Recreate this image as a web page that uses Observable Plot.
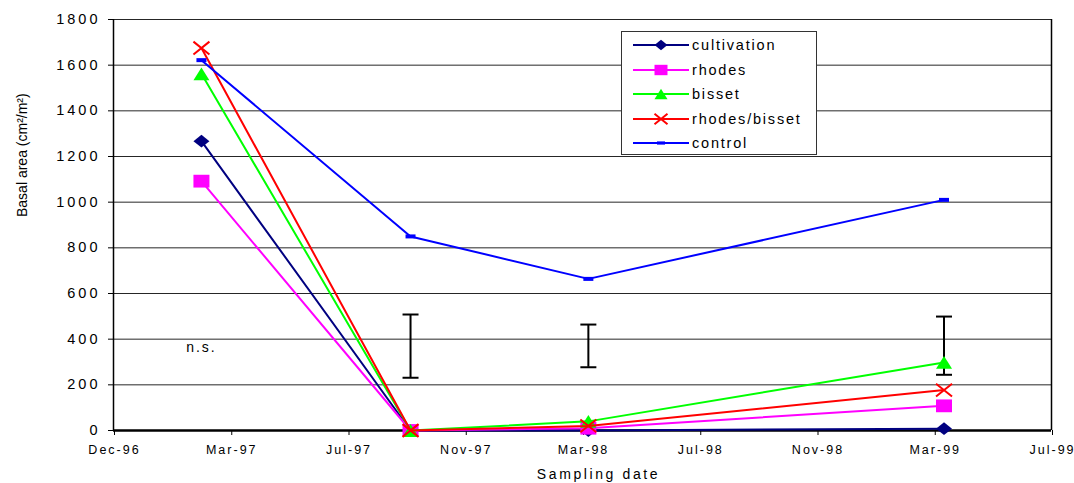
<!DOCTYPE html>
<html><head><meta charset="utf-8">
<script src="https://cdn.jsdelivr.net/npm/d3@7"></script>
<script src="https://cdn.jsdelivr.net/npm/@observablehq/plot@0.6"></script>
<style>
html,body{margin:0;padding:0;background:#fff;}
#wrap{position:relative;width:1074px;height:483px;font-family:"Liberation Sans",Arial,sans-serif;}
#legend{position:absolute;left:621px;top:31px;width:196px;height:124px;border:1px solid #333;background:#fff;box-sizing:border-box;}
.row{position:absolute;left:0;height:20px;}
.row svg{position:absolute;left:10px;top:2px;}
.row span{position:absolute;left:70px;top:1px;font-size:14.5px;line-height:18px;letter-spacing:1.8px;color:#000;white-space:nowrap;}
</style></head><body><div id="wrap"></div>
<script>
// ---- data ----
const seriesNames = ["cultivation", "rhodes", "bisset", "rhodes/bisset", "control"];
const sampleDates = ["1997-03-01", "1997-10-01", "1998-04-01", "1999-03-31"];
const cultivation = [1267, 0, 0, 8];
const rhodes = [1092, 0, 10, 108];
const bisset = [1562, 0, 40, 298];
const rhodesBisset = [1675, 0, 20, 177];
const control = [1622, 850, 664, 1010];
const errDates = ["1997-10-01", "1998-04-01", "1999-03-31"];
const errLow = [231, 277, 244];
const errHigh = [508, 464, 499];
const nsDate = "1997-03-01";
const nsValue = 365;
const nsLabel = "n.s.";
const yTicks = [0, 200, 400, 600, 800, 1000, 1200, 1400, 1600, 1800];
const xTickDates = ["1996-12-01", "1997-03-31", "1997-07-29", "1997-11-26", "1998-03-26", "1998-07-24", "1998-11-21", "1999-03-21", "1999-07-19"];
const xTickLabels = ["Dec-96", "Mar-97", "Jul-97", "Nov-97", "Mar-98", "Jul-98", "Nov-98", "Mar-99", "Jul-99"];
const yLabel = "Basal area (cm²/m²)";
const xLabel = "Sampling date";

// ---- styles ----
const colors = ["#000080", "#FF00FF", "#00FF00", "#FF0000", "#0000FF"];
function sym(fn) { return { draw(ctx, size) { const r = Math.sqrt(size / Math.PI); fn(ctx, r); } }; }
const diamond = sym((c, r) => { const h = r * 0.8; c.moveTo(0, -h); c.lineTo(r, 0); c.lineTo(0, h); c.lineTo(-r, 0); c.closePath(); });
const square = sym((c, r) => { const h = r * 0.8; c.moveTo(-r, -h); c.lineTo(r, -h); c.lineTo(r, h); c.lineTo(-r, h); c.closePath(); });
const triangle = sym((c, r) => { const h = r * 0.8; c.moveTo(0, -h); c.lineTo(r, h); c.lineTo(-r, h); c.closePath(); });
const cross = sym((c, r) => { const h = r * 0.8; c.moveTo(-r, -h); c.lineTo(r, h); c.moveTo(r, -h); c.lineTo(-r, h); });
const dash = sym((c, r) => { const h = r * 0.4; c.moveTo(-r, -h); c.lineTo(r, -h); c.lineTo(r, h); c.lineTo(-r, h); c.closePath(); });
const cap = sym((c, r) => { c.moveTo(-r, 0); c.lineTo(r, 0); });

const valueSets = [cultivation, rhodes, bisset, rhodesBisset, control];
const symbols = [diamond, square, triangle, cross, dash];
const filled = [true, true, true, false, true];
const markerR = [8, 8, 8, 8, 5];
const legendR = [6.5, 6.5, 6.5, 6.5, 4];

const parse = s => new Date(s + "T00:00:00Z");
const series = seriesNames.map((name, i) => ({
  name, color: colors[i], symbol: symbols[i], filled: filled[i], r: markerR[i], lr: legendR[i],
  rows: sampleDates.map((d, j) => ({ date: parse(d), value: valueSets[i][j] }))
}));
const errRows = errDates.map((d, i) => ({ date: parse(d), lo: errLow[i], hi: errHigh[i] }));
const xTicks = xTickDates.map(parse);
const labelMap = new Map(xTicks.map((d, i) => [+d, xTickLabels[i]]));

const marks = [
  Plot.gridY(yTicks, { stroke: "#000", strokeOpacity: 0.85, strokeWidth: 1 }),
  Plot.ruleX([xTicks[0], xTicks[xTicks.length - 1]], { stroke: "#000", strokeWidth: 1.5 }),
  Plot.axisY(yTicks, { tickSize: 5, tickPadding: 8, fontSize: 14.5, label: null, tickFormat: d => String(d) }),
  Plot.axisX(xTicks, { tickSize: 5, tickPadding: 10, fontSize: 12.5, label: null, tickFormat: d => labelMap.get(+d), dx: 1 }),
  Plot.text([yLabel], { frameAnchor: "left", rotate: -90, dx: -91, dy: -8, fontSize: 14 }),
  Plot.text([xLabel], { frameAnchor: "bottom", dy: 48, dx: 16, fontSize: 14 }),
  Plot.text([{ date: parse(nsDate), value: nsValue }], { x: "date", y: "value", text: () => nsLabel, fontSize: 14 }),
  Plot.ruleX(errRows, { x: "date", y1: "lo", y2: "hi", stroke: "#000", strokeWidth: 2 }),
  Plot.dot(errRows, { x: "date", y: "lo", symbol: cap, r: 8, fill: "none", stroke: "#000", strokeWidth: 2 }),
  Plot.dot(errRows, { x: "date", y: "hi", symbol: cap, r: 8, fill: "none", stroke: "#000", strokeWidth: 2 }),
  Plot.ruleY([0], { stroke: "#000", strokeWidth: 2.5 })
];
series.forEach(s => {
  marks.push(Plot.line(s.rows, { x: "date", y: "value", stroke: s.color, strokeWidth: 2 }));
  marks.push(Plot.dot(s.rows, { x: "date", y: "value", symbol: s.symbol, r: s.r,
    fill: s.filled ? s.color : "none", stroke: s.filled ? "none" : s.color, strokeWidth: 2 }));
});

const svg = Plot.plot({
  width: 1074, height: 483,
  marginLeft: 113, marginRight: 23, marginTop: 19, marginBottom: 53,
  style: { fontFamily: "'Liberation Sans', Arial, sans-serif", fontSize: "14px", background: "white", overflow: "visible", color: "#000" },
  x: { type: "utc", domain: [xTicks[0], xTicks[xTicks.length - 1]] },
  y: { domain: [0, 1800] },
  marks
});
d3.select(svg).selectAll("text").each(function () {
  const el = d3.select(this);
  const g = this.closest("g[aria-label]");
  const lab = g ? g.getAttribute("aria-label") : "";
  const t = this.textContent;
  if (lab === "y-axis tick label") el.style("letter-spacing", "3px");
  else if (lab === "x-axis tick label") el.style("letter-spacing", "2px");
  else if (t === xLabel) el.style("letter-spacing", "2.6px");
  else if (t === nsLabel) el.style("letter-spacing", "2px");
});
const wrap = document.getElementById("wrap");
wrap.appendChild(svg);
svg.style.position = "absolute"; svg.style.left = "0"; svg.style.top = "0";

// legend
const legend = document.createElement("div");
legend.id = "legend";
series.forEach((s, i) => {
  const row = document.createElement("div");
  row.className = "row";
  row.style.top = (13 + i * 24.5 - 10) + "px";
  row.style.width = "190px";
  const sw = d3.create("svg").attr("width", 60).attr("height", 16);
  sw.append("line").attr("x1", 1).attr("x2", 57).attr("y1", 8).attr("y2", 8).attr("stroke", s.color).attr("stroke-width", 2);
  const p = d3.path();
  s.symbol.draw(p, s.lr * s.lr * Math.PI);
  sw.append("path").attr("d", p.toString()).attr("transform", "translate(29,8)")
    .attr("fill", s.filled ? s.color : "none").attr("stroke", s.filled ? "none" : s.color).attr("stroke-width", 2);
  row.appendChild(sw.node());
  const span = document.createElement("span");
  span.textContent = s.name;
  row.appendChild(span);
  legend.appendChild(row);
});
wrap.appendChild(legend);
</script></body></html>
